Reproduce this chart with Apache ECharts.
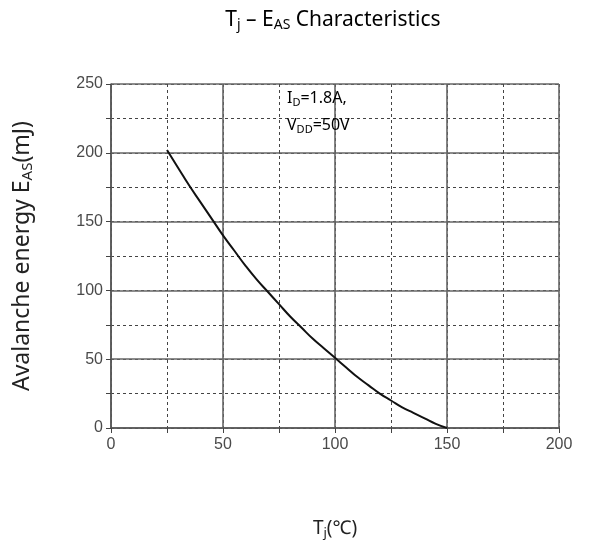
<!DOCTYPE html>
<html><head><meta charset="utf-8">
<script src="https://cdn.jsdelivr.net/npm/echarts@6/dist/echarts.min.js"></script>
<style>html,body{margin:0;padding:0;background:#fff}#c{width:592px;height:545px}</style>
</head><body><div id="c"></div>
<script>
const tjValues = [25,30,35,40,45,50,55,60,65,70,75,80,85,90,95,100,105,110,115,120,125,130,135,140,145,150];
const easValues = [202,189,176,164,152,140,129,118,108,99,90,81,73,65,58,51,44,37,31,25,20,15,11,7,3,0];
const xTickLabels = ['0','50','100','150','200'];
const yTickLabels = ['0','50','100','150','200','250'];

const chart = echarts.init(document.getElementById('c'));
const tickFont = {fontFamily:'Liberation Sans', fontSize:16, color:'#4a4a4a'};
const mainStyle = {fontFamily:'Noto Sans', color:'#222', fontWeight:'normal'};
function sub(fs, pad){ return {fontSize:fs, fontFamily:'Noto Sans', color:'#222', fontWeight:'normal', padding:[pad,0,0,0]}; }

function lbl(list){ return function(v){ const s=String(v); return list.indexOf(s)>=0 ? s : ''; }; }

chart.setOption({
  animation:false,
  grid:{left:111, right:33, top:84, bottom:115},
  xAxis:[
    {type:'value', min:0, max:200, interval:25,
     axisLine:{show:true, lineStyle:{color:'#555', width:1.5}},
     axisTick:{show:true, length:5, lineStyle:{color:'#444'}},
     axisLabel:Object.assign({formatter:lbl(xTickLabels), margin:9}, tickFont),
     splitLine:{show:true, lineStyle:{color:'#444', type:[3,3], width:1}},
     name:'{m|T}{s|j}{m|(℃)}', nameLocation:'middle', nameGap:90,
     nameTextStyle:{rich:{m:Object.assign({fontSize:19},mainStyle), s:sub(13,9)}}
    },
    {type:'value', min:0, max:200, interval:50, position:'bottom',
     axisLine:{show:false}, axisTick:{show:false}, axisLabel:{show:false},
     splitLine:{show:true, lineStyle:{color:'#666', width:1.6}}}
  ],
  yAxis:[
    {type:'value', min:0, max:250, interval:25,
     axisLine:{show:true, lineStyle:{color:'#555', width:1.5}},
     axisTick:{show:true, length:5, lineStyle:{color:'#444'}},
     axisLabel:Object.assign({formatter:lbl(yTickLabels), margin:8}, tickFont),
     splitLine:{show:true, lineStyle:{color:'#444', type:[3,3], width:1}},
     name:'{m|Avalanche energy E}{s|AS}{m|(mJ)}', nameLocation:'middle', nameGap:76, nameRotate:90,
     nameTextStyle:{rich:{m:Object.assign({fontSize:23},mainStyle), s:sub(15,11)}}
    },
    {type:'value', min:0, max:250, interval:50, position:'left',
     axisLine:{show:false}, axisTick:{show:false}, axisLabel:{show:false},
     splitLine:{show:true, lineStyle:{color:'#666', width:1.6}}}
  ],
  graphic:[
    {type:'text', x:333, y:8, z:100,
     style:{text:'{m|T}{s|j}{m| – E}{s|AS}{m| Characteristics}', align:'center',
       rich:{m:Object.assign({fontSize:21},mainStyle), s:sub(14,10)}}},
    {type:'text', left:287, top:88, z:100,
     style:{text:'{m|I}{s|D}{m|=1.8A,}\n{m|V}{s|DD}{m|=50V}',
       rich:{m:{fontSize:16, fontFamily:'Noto Sans', color:'#222', lineHeight:27},
             s:{fontSize:11, fontFamily:'Noto Sans', color:'#222', lineHeight:27, padding:[9,0,0,0]}}}}
  ],
  series:[{
    type:'line', xAxisIndex:0, yAxisIndex:0, smooth:0.5, symbol:'none',
    lineStyle:{color:'#111', width:2},
    data: tjValues.map((t,i)=>[t, easValues[i]])
  }]
});
</script></body></html>
